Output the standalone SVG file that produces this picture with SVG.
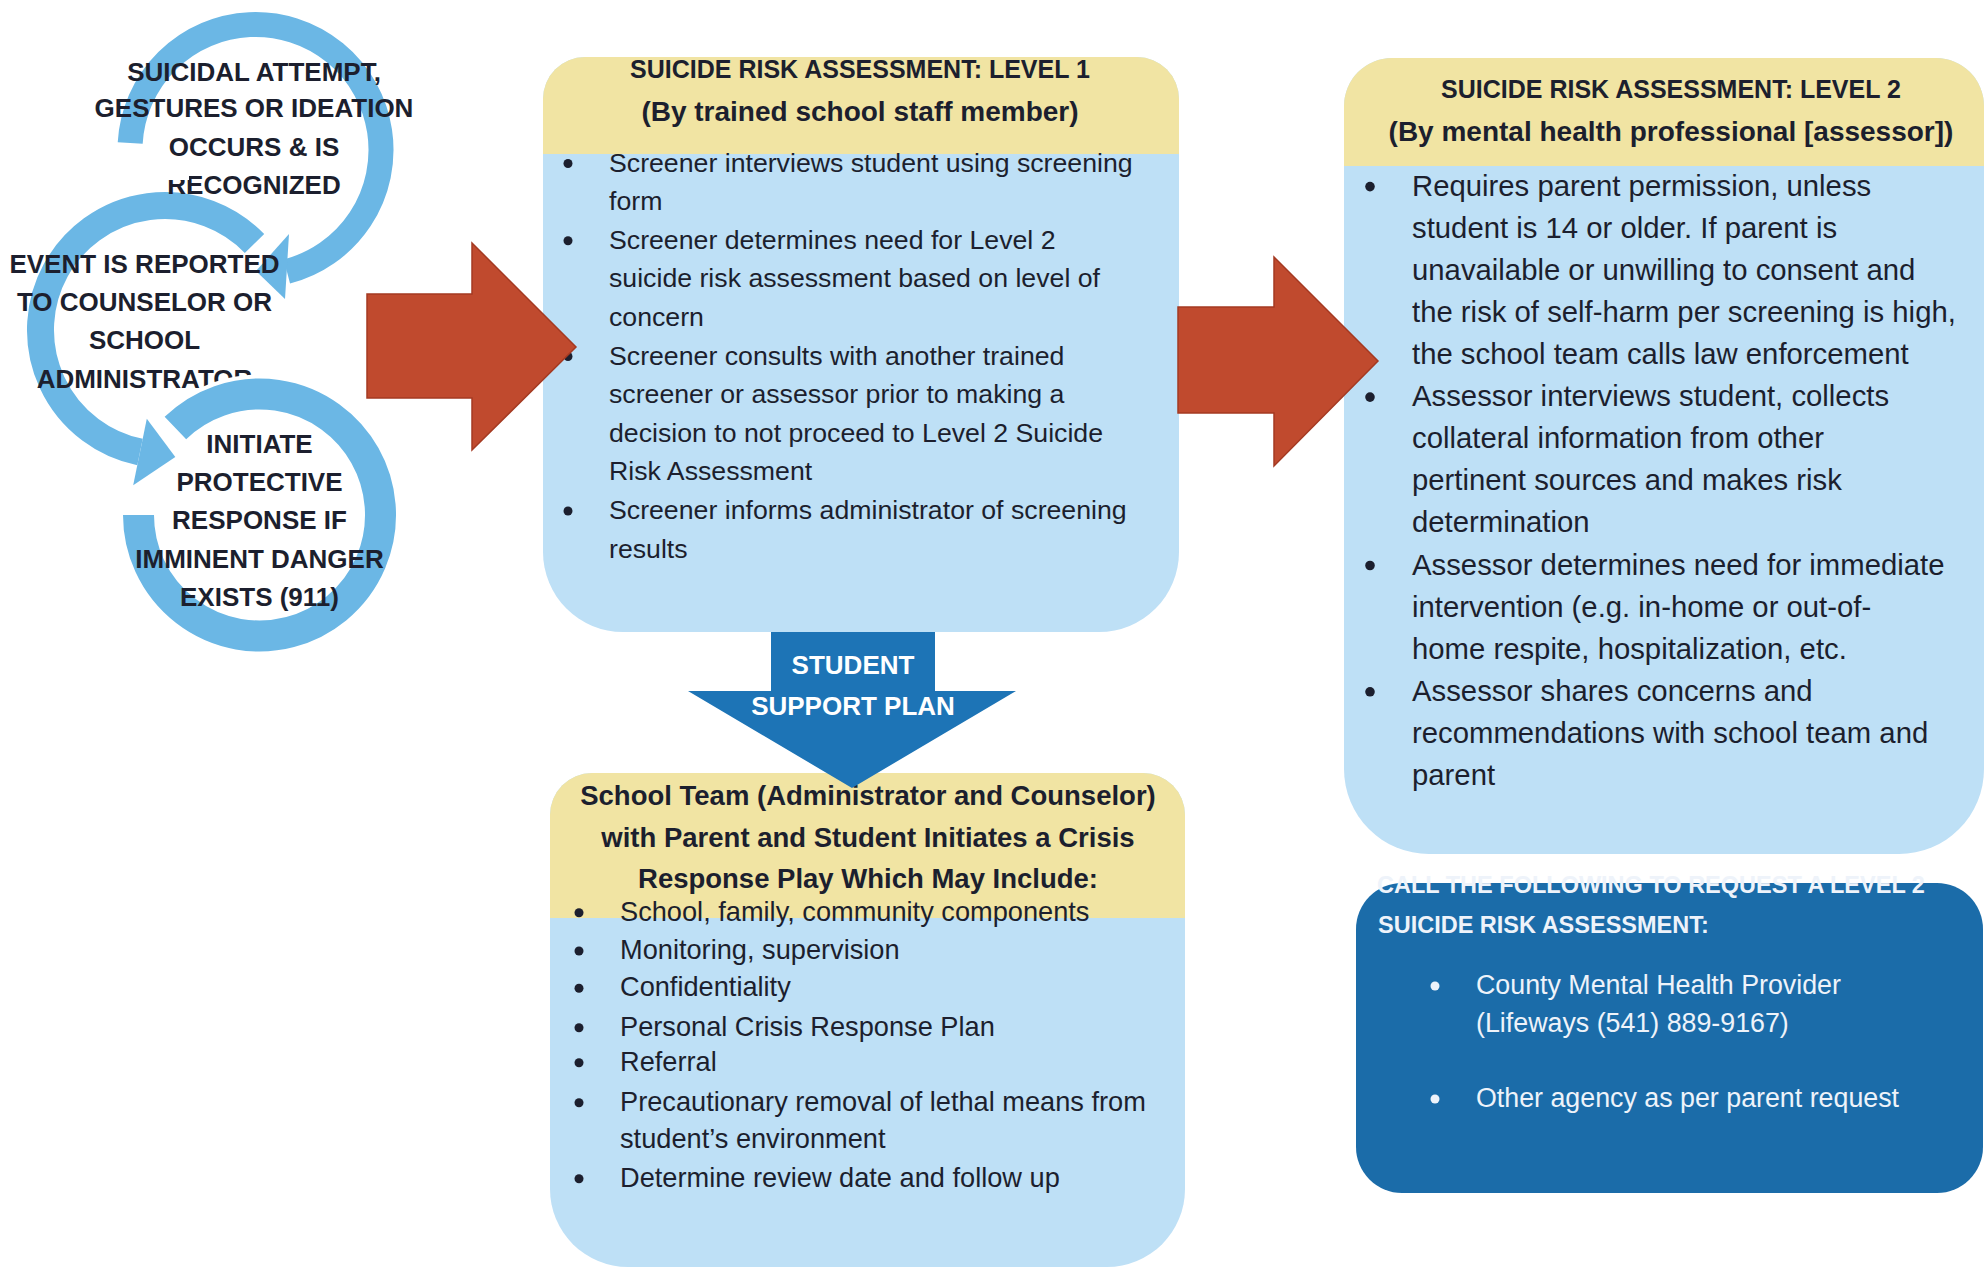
<svg xmlns="http://www.w3.org/2000/svg" width="1986" height="1270" viewBox="0 0 1986 1270">
<defs>
<style>
.t{font-family:'Liberation Sans',Arial,sans-serif;fill:#1c1f2e}
.b1{font-size:26.7px}
.b2{font-size:29.3px}
.b3{font-size:27.2px}
.cap{font-size:25px;font-weight:bold}
.mix{font-size:28px;font-weight:bold}
.cyc{font-size:26px;font-weight:bold;text-anchor:middle}
.mid{text-anchor:middle}
.wt{fill:#eef3fa}
.bul{fill:#1c1f2e}
.bulw{fill:#eef3fa}
.blue{fill:#bee0f6}
.yel{fill:#f1e4a3}
.ringw{fill:none;stroke:#ffffff}
.ringb{fill:none;stroke:#6bb7e5}
.headw{fill:#ffffff;stroke:#ffffff;stroke-width:8;stroke-linejoin:round}
.headb{fill:#6bb7e5}
.red{fill:#c04a2e;stroke:#a43a22;stroke-width:1.5}
</style>
<clipPath id="clipRec"><path d="M189 0 H420 V420 H0 V180 H189 Z"/></clipPath>
<path id="r1" d="M130.2 143 A125.5 125.5 0 1 1 286.9 271.5"/>
<path id="r2" d="M254.5 243.5 A124.5 124.5 0 1 0 140 452"/>
<path id="r3" d="M138.5 515 A121 121 0 1 0 175.4 428"/>
<polygon id="h1" points="289,234 285,299 256,271"/>
<polygon id="h2" points="146.8,418.7 133.2,485.3 175.3,457"/>
</defs>
<rect width="1986" height="1270" fill="#ffffff"/>

<g id="cycle">
<g id="ring1">
<use href="#r1" class="ringw" stroke-width="33"/>
<use href="#h1" class="headw"/>
<use href="#r1" class="ringb" stroke-width="25"/>
<use href="#h1" class="headb"/>
</g>
<g id="ring2">
<use href="#r2" class="ringw" stroke-width="35"/>
<use href="#h2" class="headw"/>
<use href="#r2" class="ringb" stroke-width="27"/>
<use href="#h2" class="headb"/>
</g>
<g id="step-recognized">
<text class="t cyc" x="254" y="81">SUICIDAL ATTEMPT,</text>
<text class="t cyc" x="254" y="117">GESTURES OR IDEATION</text>
<text class="t cyc" x="254" y="155.5">OCCURS &amp; IS</text>
<text class="t cyc" x="254" y="193.5" clip-path="url(#clipRec)">RECOGNIZED</text>
</g>
<g id="step-reported">
<text class="t cyc" x="144.5" y="272.6">EVENT IS REPORTED</text>
<text class="t cyc" x="144.5" y="311">TO COUNSELOR OR</text>
<text class="t cyc" x="144.5" y="349.3">SCHOOL</text>
<text class="t cyc" x="144.5" y="387.6">ADMINISTRATOR</text>
</g>
<g id="ring3">
<use href="#r3" class="ringw" stroke-width="39"/>
<use href="#r3" class="ringb" stroke-width="31"/>
</g>
<g id="step-protect">
<text class="t cyc" x="259.5" y="452.6">INITIATE</text>
<text class="t cyc" x="259.5" y="491">PROTECTIVE</text>
<text class="t cyc" x="259.5" y="529.3">RESPONSE IF</text>
<text class="t cyc" x="259.5" y="567.6">IMMINENT DANGER</text>
<text class="t cyc" x="259.5" y="606">EXISTS (911)</text>
</g>
</g>

<g id="level1">
<path class="blue" d="M585 57 H1137 A42 42 0 0 1 1179 99 V552 A80 80 0 0 1 1099 632 H623 A80 80 0 0 1 543 552 V99 A42 42 0 0 1 585 57 Z"/>
<path class="yel" d="M543 154 V99 A42 42 0 0 1 585 57 H1137 A42 42 0 0 1 1179 99 V154 Z"/>
<text class="t cap mid" x="860" y="77.7">SUICIDE RISK ASSESSMENT: LEVEL 1</text>
<text class="t mix mid" x="860" y="120.5">(By trained school staff member)</text>
<circle class="bul" cx="568" cy="163.5" r="4.5"/>
<circle class="bul" cx="568" cy="240.7" r="4.5"/>
<circle class="bul" cx="568" cy="356.5" r="4.5"/>
<circle class="bul" cx="568" cy="511" r="4.5"/>
<text class="t b1" x="609" y="171.5">Screener interviews student using screening</text>
<text class="t b1" x="609" y="210.1">form</text>
<text class="t b1" x="609" y="248.7">Screener determines need for Level 2</text>
<text class="t b1" x="609" y="287.3">suicide risk assessment based on level of</text>
<text class="t b1" x="609" y="325.9">concern</text>
<text class="t b1" x="609" y="364.5">Screener consults with another trained</text>
<text class="t b1" x="609" y="403.1">screener or assessor prior to making a</text>
<text class="t b1" x="609" y="441.7">decision to not proceed to Level 2 Suicide</text>
<text class="t b1" x="609" y="480.3">Risk Assessment</text>
<text class="t b1" x="609" y="518.9">Screener informs administrator of screening</text>
<text class="t b1" x="609" y="557.5">results</text>
</g>

<g id="level2">
<path class="blue" d="M1392 58 H1936 A48 48 0 0 1 1984 106 V769 A85 85 0 0 1 1899 854 H1429 A85 85 0 0 1 1344 769 V106 A48 48 0 0 1 1392 58 Z"/>
<path class="yel" d="M1344 166 V106 A48 48 0 0 1 1392 58 H1936 A48 48 0 0 1 1984 106 V166 Z"/>
<text class="t cap mid" x="1671" y="97.7">SUICIDE RISK ASSESSMENT: LEVEL 2</text>
<text class="t mix mid" x="1671" y="141">(By mental health professional [assessor])</text>
<circle class="bul" cx="1370" cy="186.6" r="4.8"/>
<circle class="bul" cx="1370" cy="397.1" r="4.8"/>
<circle class="bul" cx="1370" cy="565.5" r="4.8"/>
<circle class="bul" cx="1370" cy="691.8" r="4.8"/>
<text class="t b2" x="1412" y="195.6">Requires parent permission, unless</text>
<text class="t b2" x="1412" y="237.7">student is 14 or older. If parent is</text>
<text class="t b2" x="1412" y="279.8">unavailable or unwilling to consent and</text>
<text class="t b2" x="1412" y="321.9">the risk of self-harm per screening is high,</text>
<text class="t b2" x="1412" y="364">the school team calls law enforcement</text>
<text class="t b2" x="1412" y="406.1">Assessor interviews student, collects</text>
<text class="t b2" x="1412" y="448.2">collateral information from other</text>
<text class="t b2" x="1412" y="490.3">pertinent sources and makes risk</text>
<text class="t b2" x="1412" y="532.4">determination</text>
<text class="t b2" x="1412" y="574.5">Assessor determines need for immediate</text>
<text class="t b2" x="1412" y="616.6">intervention (e.g. in-home or out-of-</text>
<text class="t b2" x="1412" y="658.7">home respite, hospitalization, etc.</text>
<text class="t b2" x="1412" y="700.8">Assessor shares concerns and</text>
<text class="t b2" x="1412" y="742.9">recommendations with school team and</text>
<text class="t b2" x="1412" y="785">parent</text>
</g>

<g id="call-box">
<rect x="1356" y="883" width="627" height="310" rx="46" fill="#1b6ca9"/>
<text class="t wt" x="1377" y="893.4" font-size="23.5" font-weight="bold">CALL THE FOLLOWING TO REQUEST A LEVEL 2</text>
<text class="t wt" x="1378" y="933.4" font-size="23.5" font-weight="bold">SUICIDE RISK ASSESSMENT:</text>
<circle class="bulw" cx="1435" cy="986" r="4.5"/>
<circle class="bulw" cx="1435" cy="1099" r="4.5"/>
<text class="t wt" x="1476" y="994" font-size="26.8">County Mental Health Provider</text>
<text class="t wt" x="1476" y="1032" font-size="26.8">(Lifeways (541) 889-9167)</text>
<text class="t wt" x="1476" y="1107" font-size="26.8">Other agency as per parent request</text>
</g>

<g id="school-team">
<path class="blue" d="M592 773 H1143 A42 42 0 0 1 1185 815 V1189 A78 78 0 0 1 1107 1267 H628 A78 78 0 0 1 550 1189 V815 A42 42 0 0 1 592 773 Z"/>
<path class="yel" d="M550 918 V815 A42 42 0 0 1 592 773 H1143 A42 42 0 0 1 1185 815 V918 Z"/>
<text class="t mid" x="868" y="805" font-size="27.5" font-weight="bold">School Team (Administrator and Counselor)</text>
<text class="t mid" x="868" y="846.5" font-size="27.5" font-weight="bold">with Parent and Student Initiates a Crisis</text>
<text class="t mid" x="868" y="888" font-size="27.5" font-weight="bold">Response Play Which May Include:</text>
<circle class="bul" cx="579" cy="912.7" r="4.5"/>
<circle class="bul" cx="579" cy="951" r="4.5"/>
<circle class="bul" cx="579" cy="988.3" r="4.5"/>
<circle class="bul" cx="579" cy="1027.7" r="4.5"/>
<circle class="bul" cx="579" cy="1062.7" r="4.5"/>
<circle class="bul" cx="579" cy="1102.7" r="4.5"/>
<circle class="bul" cx="579" cy="1178.7" r="4.5"/>
<text class="t b3" x="620" y="920.7">School, family, community components</text>
<text class="t b3" x="620" y="959">Monitoring, supervision</text>
<text class="t b3" x="620" y="996.3">Confidentiality</text>
<text class="t b3" x="620" y="1035.7">Personal Crisis Response Plan</text>
<text class="t b3" x="620" y="1070.7">Referral</text>
<text class="t b3" x="620" y="1110.7">Precautionary removal of lethal means from</text>
<text class="t b3" x="620" y="1148.3">student’s environment</text>
<text class="t b3" x="620" y="1186.7">Determine review date and follow up</text>
</g>

<g id="connectors">
<polygon id="arrow-to-level1" class="red" points="367,294 472,294 472,243 576,347 472,450 472,398 367,398"/>
<polygon id="arrow-to-level2" class="red" points="1178,307 1274,307 1274,257 1378,361 1274,466 1274,413 1178,413"/>
<g id="student-support-plan">
<polygon fill="#1d74b6" points="771,632 935,632 935,691 1016,691 852,788 688,691 771,691"/>
<text class="t mid" x="853" y="674.3" font-size="26" font-weight="bold" fill="#ffffff" style="fill:#ffffff">STUDENT</text>
<text class="t mid" x="853" y="715.3" font-size="26" font-weight="bold" fill="#ffffff" style="fill:#ffffff">SUPPORT PLAN</text>
</g>
</g>
</svg>
